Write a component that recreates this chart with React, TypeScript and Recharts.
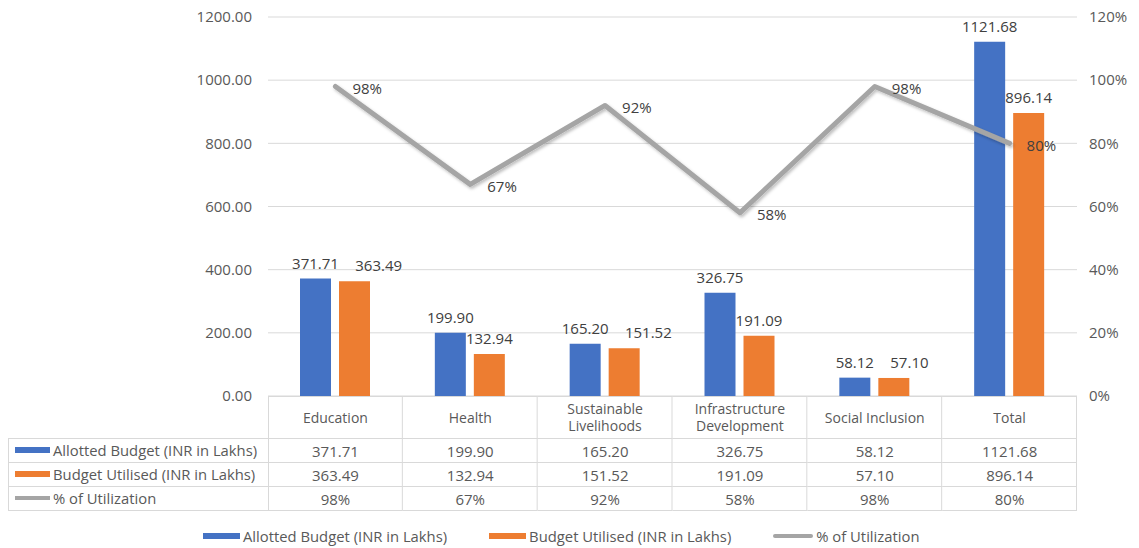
import { ComposedChart, Bar, Line, XAxis, YAxis, CartesianGrid, Legend, LabelList } from 'recharts'

const categories = ['Education', 'Health', 'Sustainable Livelihoods', 'Infrastructure Development', 'Social Inclusion', 'Total']
const allotted = [371.71, 199.9, 165.2, 326.75, 58.12, 1121.68]
const utilised = [363.49, 132.94, 151.52, 191.09, 57.1, 896.14]
const utilization = [98, 67, 92, 58, 98, 80]
const seriesNames = ['Allotted Budget (INR in Lakhs)', 'Budget Utilised (INR in Lakhs)', '% of Utilization']
const leftTicks = [0, 200, 400, 600, 800, 1000, 1200]
const rightTicks = [0, 20, 40, 60, 80, 100, 120]

const BLUE = '#4472C4'
const ORANGE = '#ED7D31'
const GREY = '#A5A5A5'
const TEXT = '#595959'
const RULE = '#D9D9D9'
const FONT = '"Open Sans", "DejaVu Sans", sans-serif'

// the svg is pulled up over the body margin so the top tick labels have room
const CHART_W = 1123
const CHART_H = 548
const LEFT_W = 260
const RIGHT_W = 54
const COL_W = (CHART_W - LEFT_W - RIGHT_W) / categories.length
const BAR_SIZE = 31
const BAR_GAP = 8
const HEAD_H = 42
const ROW_H = 24

const data = categories.map((name, i) => ({
  name,
  allotted: allotted[i],
  utilised: utilised[i],
  pct: utilization[i],
}))

// rough width of a number label at 15px
const numW = (s: string) => s.length * 8.6 - (s.includes('.') ? 4.4 : 0)

function TableTick(props: any) {
  const { x, y, payload } = props
  const i = payload.index
  const left = x - COL_W / 2
  const right = x + COL_W / 2
  const name: string = payload.value
  const words = name.split(' ')
  const lines = name.length > 17 && words.length > 1 ? [words.slice(0, -1).join(' '), words[words.length - 1]] : [name]
  const rows = [allotted[i].toFixed(2), utilised[i].toFixed(2), `${utilization[i]}%`]
  const bottom = y + HEAD_H + ROW_H * 3
  return (
    <g fontFamily={FONT} fill={TEXT}>
      {i === 0 && (
        <g>
          <line x1={left + 0.5} x2={left + 0.5} y1={y} y2={bottom} stroke={RULE} />
          <line x1={0.5} x2={0.5} y1={y + HEAD_H} y2={bottom} stroke={RULE} />
          {[0, 1, 2, 3].map((r) => (
            <line key={r} x1={0} x2={left} y1={y + HEAD_H + r * ROW_H + 0.5} y2={y + HEAD_H + r * ROW_H + 0.5} stroke={RULE} />
          ))}
          {seriesNames.map((s, r) => {
            const cy = y + HEAD_H + r * ROW_H + ROW_H / 2
            return (
              <g key={s}>
                {r < 2 ? (
                  <rect x={7} y={cy - 3} width={35} height={6} fill={r === 0 ? BLUE : ORANGE} />
                ) : (
                  <line x1={7} x2={42} y1={cy} y2={cy} stroke={GREY} strokeWidth={4} />
                )}
                <text x={45} y={cy} dominantBaseline="central" fontSize={14.8}>{s}</text>
              </g>
            )
          })}
        </g>
      )}
      <line x1={left} x2={right} y1={y + 0.5} y2={y + 0.5} stroke={RULE} />
      <line x1={right - 0.5} x2={right - 0.5} y1={y} y2={bottom} stroke={RULE} />
      {[1, 2, 3, 4].map((r) => (
        <line key={r} x1={left} x2={right} y1={y + HEAD_H + (r - 1) * ROW_H + 0.5} y2={y + HEAD_H + (r - 1) * ROW_H + 0.5} stroke={RULE} />
      ))}
      {lines.map((l, k) => (
        <text key={k} x={x} y={y + HEAD_H / 2 + (k - (lines.length - 1) / 2) * 17} textAnchor="middle" dominantBaseline="central" fontSize={14}>
          {l}
        </text>
      ))}
      {rows.map((v, r) => (
        <text key={r} x={x} y={y + HEAD_H + r * ROW_H + ROW_H / 2 + 1} textAnchor="middle" dominantBaseline="central" fontSize={15}>
          {v}
        </text>
      ))}
    </g>
  )
}

function BlueLabel(props: any) {
  const { x, y, width, value } = props
  return (
    <text x={x + width / 2} y={y - 16} textAnchor="middle" dominantBaseline="central" fontSize={15} fontFamily={FONT} fill="#404040">
      {Number(value).toFixed(2)}
    </text>
  )
}

// Orange labels slide right when they would collide with the blue label beside them.
function OrangeLabel(props: any) {
  const { x, y, width, height, value, index } = props
  const txt = Number(value).toFixed(2)
  const blue = allotted[index]
  const blueTop = y + height - (blue * height) / value
  const blueTxt = blue.toFixed(2)
  const blueRight = x - BAR_GAP - width / 2 + numW(blueTxt) / 2
  let cx = x + width / 2
  if (Math.abs(blueTop - y) < 16 && cx - numW(txt) / 2 < blueRight + 4) {
    cx = blueRight + 16 + numW(txt) / 2
  }
  return (
    <text x={cx} y={y - 16} textAnchor="middle" dominantBaseline="central" fontSize={15} fontFamily={FONT} fill="#404040">
      {txt}
    </text>
  )
}

function PctLabel(props: any) {
  const { x, y, value } = props
  return (
    <text x={x + 17} y={y + 1.5} dominantBaseline="central" fontSize={15} fontFamily={FONT} fill="#404040">
      {`${value}%`}
    </text>
  )
}

function LegendRow() {
  const item = (key: string, swatch: any, label: string, first: boolean) => (
    <div key={key} style={{ display: 'flex', alignItems: 'center', marginLeft: first ? 0 : 42 }}>
      {swatch}
      <span style={{ marginLeft: 3, fontSize: 14.8, color: TEXT, fontFamily: FONT, whiteSpace: 'nowrap' }}>{label}</span>
    </div>
  )
  return (
    <div style={{ display: 'flex', alignItems: 'center', height: 32, paddingTop: 8, paddingLeft: 195, boxSizing: 'border-box' }}>
      {item('a', <div style={{ width: 37, height: 6, background: BLUE }} />, seriesNames[0], true)}
      {item('b', <div style={{ width: 37, height: 6, background: ORANGE }} />, seriesNames[1], false)}
      {item('c', <div style={{ width: 40, height: 4, background: GREY, borderRadius: 2 }} />, seriesNames[2], false)}
    </div>
  )
}

export default function App() {
  return (
    <div style={{ width: CHART_W, height: CHART_H, marginTop: -8, fontFamily: FONT }}>
      <ComposedChart width={CHART_W} height={CHART_H} data={data} margin={{ top: 17, right: 0, bottom: 0, left: 0 }} barSize={BAR_SIZE} barGap={BAR_GAP}>
        <defs>
          <filter id="lineShadow" x="-10%" y="-20%" width="120%" height="140%">
            <feDropShadow dx="1.5" dy="2" stdDeviation="1.5" floodColor="#000" floodOpacity="0.25" />
          </filter>
        </defs>
        <CartesianGrid yAxisId="left" horizontal vertical={false} stroke={RULE} />
        <XAxis
          dataKey="name"
          interval={0}
          axisLine={false}
          tickLine={false}
          tickSize={0}
          tickMargin={0}
          height={120}
          tick={<TableTick />}
        />
        <YAxis
          yAxisId="left"
          orientation="left"
          width={LEFT_W}
          domain={[0, 1200]}
          ticks={leftTicks}
          tickFormatter={(v: number) => v.toFixed(2)}
          axisLine={false}
          tickLine={false}
          tickSize={0}
          tickMargin={16}
          tick={{ fill: TEXT, fontSize: 15, fontFamily: FONT }}
        />
        <YAxis
          yAxisId="right"
          orientation="right"
          width={RIGHT_W}
          domain={[0, 120]}
          ticks={rightTicks}
          tickFormatter={(v: number) => `${v}%`}
          axisLine={false}
          tickLine={false}
          tickSize={0}
          tickMargin={12}
          tick={{ fill: TEXT, fontSize: 15, fontFamily: FONT, textAnchor: 'start' }}
        />
        <Bar yAxisId="left" dataKey="allotted" name={seriesNames[0]} fill={BLUE} isAnimationActive={false}>
          <LabelList dataKey="allotted" content={<BlueLabel />} />
        </Bar>
        <Bar yAxisId="left" dataKey="utilised" name={seriesNames[1]} fill={ORANGE} isAnimationActive={false}>
          <LabelList dataKey="utilised" content={<OrangeLabel />} />
        </Bar>
        <Line
          yAxisId="right"
          dataKey="pct"
          name={seriesNames[2]}
          type="linear"
          stroke={GREY}
          strokeWidth={5}
          strokeLinejoin="round"
          strokeLinecap="round"
          dot={false}
          filter="url(#lineShadow)"
          isAnimationActive={false}
        >
          <LabelList dataKey="pct" content={<PctLabel />} />
        </Line>
        <Legend verticalAlign="bottom" height={32} content={() => <LegendRow />} />
      </ComposedChart>
    </div>
  )
}
